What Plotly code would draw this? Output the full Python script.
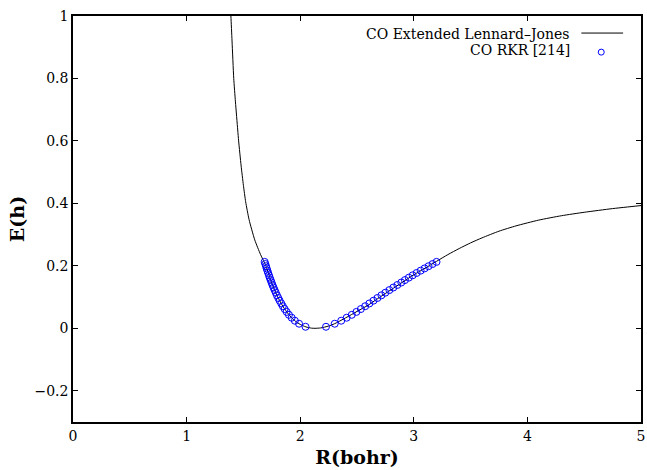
import plotly.graph_objects as go

# Extended Lennard-Jones potential curve for CO (R in bohr, E in hartree)
lj_r = [1.375, 1.39, 1.40, 1.415, 1.43, 1.45, 1.458, 1.48, 1.50, 1.52, 1.55,
        1.60, 1.65, 1.70, 1.75, 1.80, 1.85, 1.90, 1.95, 2.00, 2.05, 2.10,
        2.13, 2.18, 2.25, 2.30, 2.40, 2.50, 2.60, 2.70, 2.80, 2.90, 3.00,
        3.10, 3.20, 3.30, 3.40, 3.50, 3.60, 3.75, 3.90, 4.10, 4.30, 4.50,
        4.75, 5.00, 5.05]
lj_e = [1.10, 1.00, 0.92, 0.80, 0.725, 0.635, 0.60, 0.52, 0.458, 0.405, 0.348,
        0.283, 0.237, 0.198, 0.145, 0.102, 0.069, 0.044, 0.025, 0.0125, 0.0045, 0.0005,
        0.0, 0.0012, 0.0072, 0.0142, 0.0335, 0.054, 0.0745, 0.0995, 0.1235, 0.1475, 0.1715,
        0.1925, 0.2145, 0.236, 0.2555, 0.2735, 0.2895, 0.311, 0.328, 0.3465, 0.3605, 0.3715,
        0.3833, 0.393, 0.3948]

# RKR vibrational levels: energy and inner / outer turning points
rkr_e = [0.00493, 0.01469, 0.02434, 0.03386, 0.04326, 0.05254, 0.06170, 0.07074,
         0.07965, 0.08845, 0.09712, 0.10568, 0.11411, 0.12242, 0.13061, 0.13867,
         0.14662, 0.15445, 0.16215, 0.16974, 0.17720, 0.18454, 0.19176, 0.19886,
         0.20583, 0.21269]
rkr_inner = [2.047, 1.990, 1.953, 1.925, 1.901, 1.881, 1.863, 1.847,
             1.833, 1.819, 1.807, 1.795, 1.785, 1.775, 1.765, 1.756,
             1.748, 1.740, 1.732, 1.725, 1.718, 1.711, 1.705, 1.699,
             1.693, 1.687]
rkr_outer = [2.227, 2.304, 2.361, 2.409, 2.454, 2.495, 2.534, 2.572,
             2.609, 2.645, 2.680, 2.715, 2.750, 2.785, 2.820, 2.855,
             2.890, 2.922, 2.956, 2.990, 3.025, 3.060, 3.095, 3.130,
             3.165, 3.200]

x_ticks = [0, 1, 2, 3, 4, 5]
x_labels = ["0", "1", "2", "3", "4", "5"]
y_ticks = [-0.2, 0, 0.2, 0.4, 0.6, 0.8, 1]
y_labels = ["\u22120.2", "0", "0.2", "0.4", "0.6", "0.8", "1"]

series_names = ["CO Extended Lennard\u2013Jones", "CO RKR [214]"]

FONT = "DejaVu Serif"
BLUE = "#0000ff"

fig = go.Figure()

fig.add_trace(go.Scatter(
    x=lj_r, y=lj_e, mode="lines", name=series_names[0],
    line=dict(color="black", width=1, shape="spline", smoothing=0.6),
    showlegend=False,
))

fig.add_trace(go.Scatter(
    x=rkr_inner + rkr_outer, y=rkr_e + rkr_e, mode="markers", name=series_names[1],
    marker=dict(symbol="circle-open", size=7, color=BLUE, line=dict(width=1, color=BLUE)),
    showlegend=False,
))

axis_common = dict(
    showline=True, linecolor="black", linewidth=1.5, mirror="ticks",
    ticks="inside", ticklen=5, tickwidth=1, tickcolor="black",
    showgrid=False, zeroline=False,
    tickfont=dict(family=FONT, size=14, color="black"),
    ticklabeloverflow="allow",
)

fig.update_xaxes(
    range=[0, 5], tickvals=x_ticks, ticktext=x_labels,
    title=dict(text="<b>R(bohr)</b>", font=dict(family=FONT, size=19, color="black"), standoff=8),
    **axis_common,
)
fig.update_yaxes(
    range=[-0.3, 1], tickvals=y_ticks, ticktext=y_labels,
    title=dict(text="<b>E(h)</b>", font=dict(family=FONT, size=19, color="black"), standoff=5),
    **axis_common,
)

# Key in the upper-right corner: label on the left, sample on the right
key_font = dict(family=FONT, size=14, color="black")
fig.add_annotation(xref="paper", yref="paper", x=0.8794, y=0.9557,
                   text=series_names[0], showarrow=False, xanchor="right",
                   yanchor="middle", font=key_font)
fig.add_annotation(xref="paper", yref="paper", x=0.8794, y=0.9163,
                   text=series_names[1], showarrow=False, xanchor="right",
                   yanchor="middle", font=key_font)
fig.add_shape(type="line", xref="paper", yref="paper",
              x0=0.895, x1=0.9685, y0=0.958, y1=0.958,
              line=dict(color="black", width=1))
fig.add_shape(type="circle", xref="paper", yref="paper",
              xsizemode="pixel", ysizemode="pixel",
              xanchor=0.930, yanchor=0.911, x0=-3, x1=3, y0=-3, y1=3,
              line=dict(color=BLUE, width=1))

fig.update_layout(
    width=647, height=470,
    margin=dict(l=73, r=2, t=16, b=48),
    paper_bgcolor="white", plot_bgcolor="white",
    font=dict(family=FONT, color="black"),
)

fig.write_html("out.html")
